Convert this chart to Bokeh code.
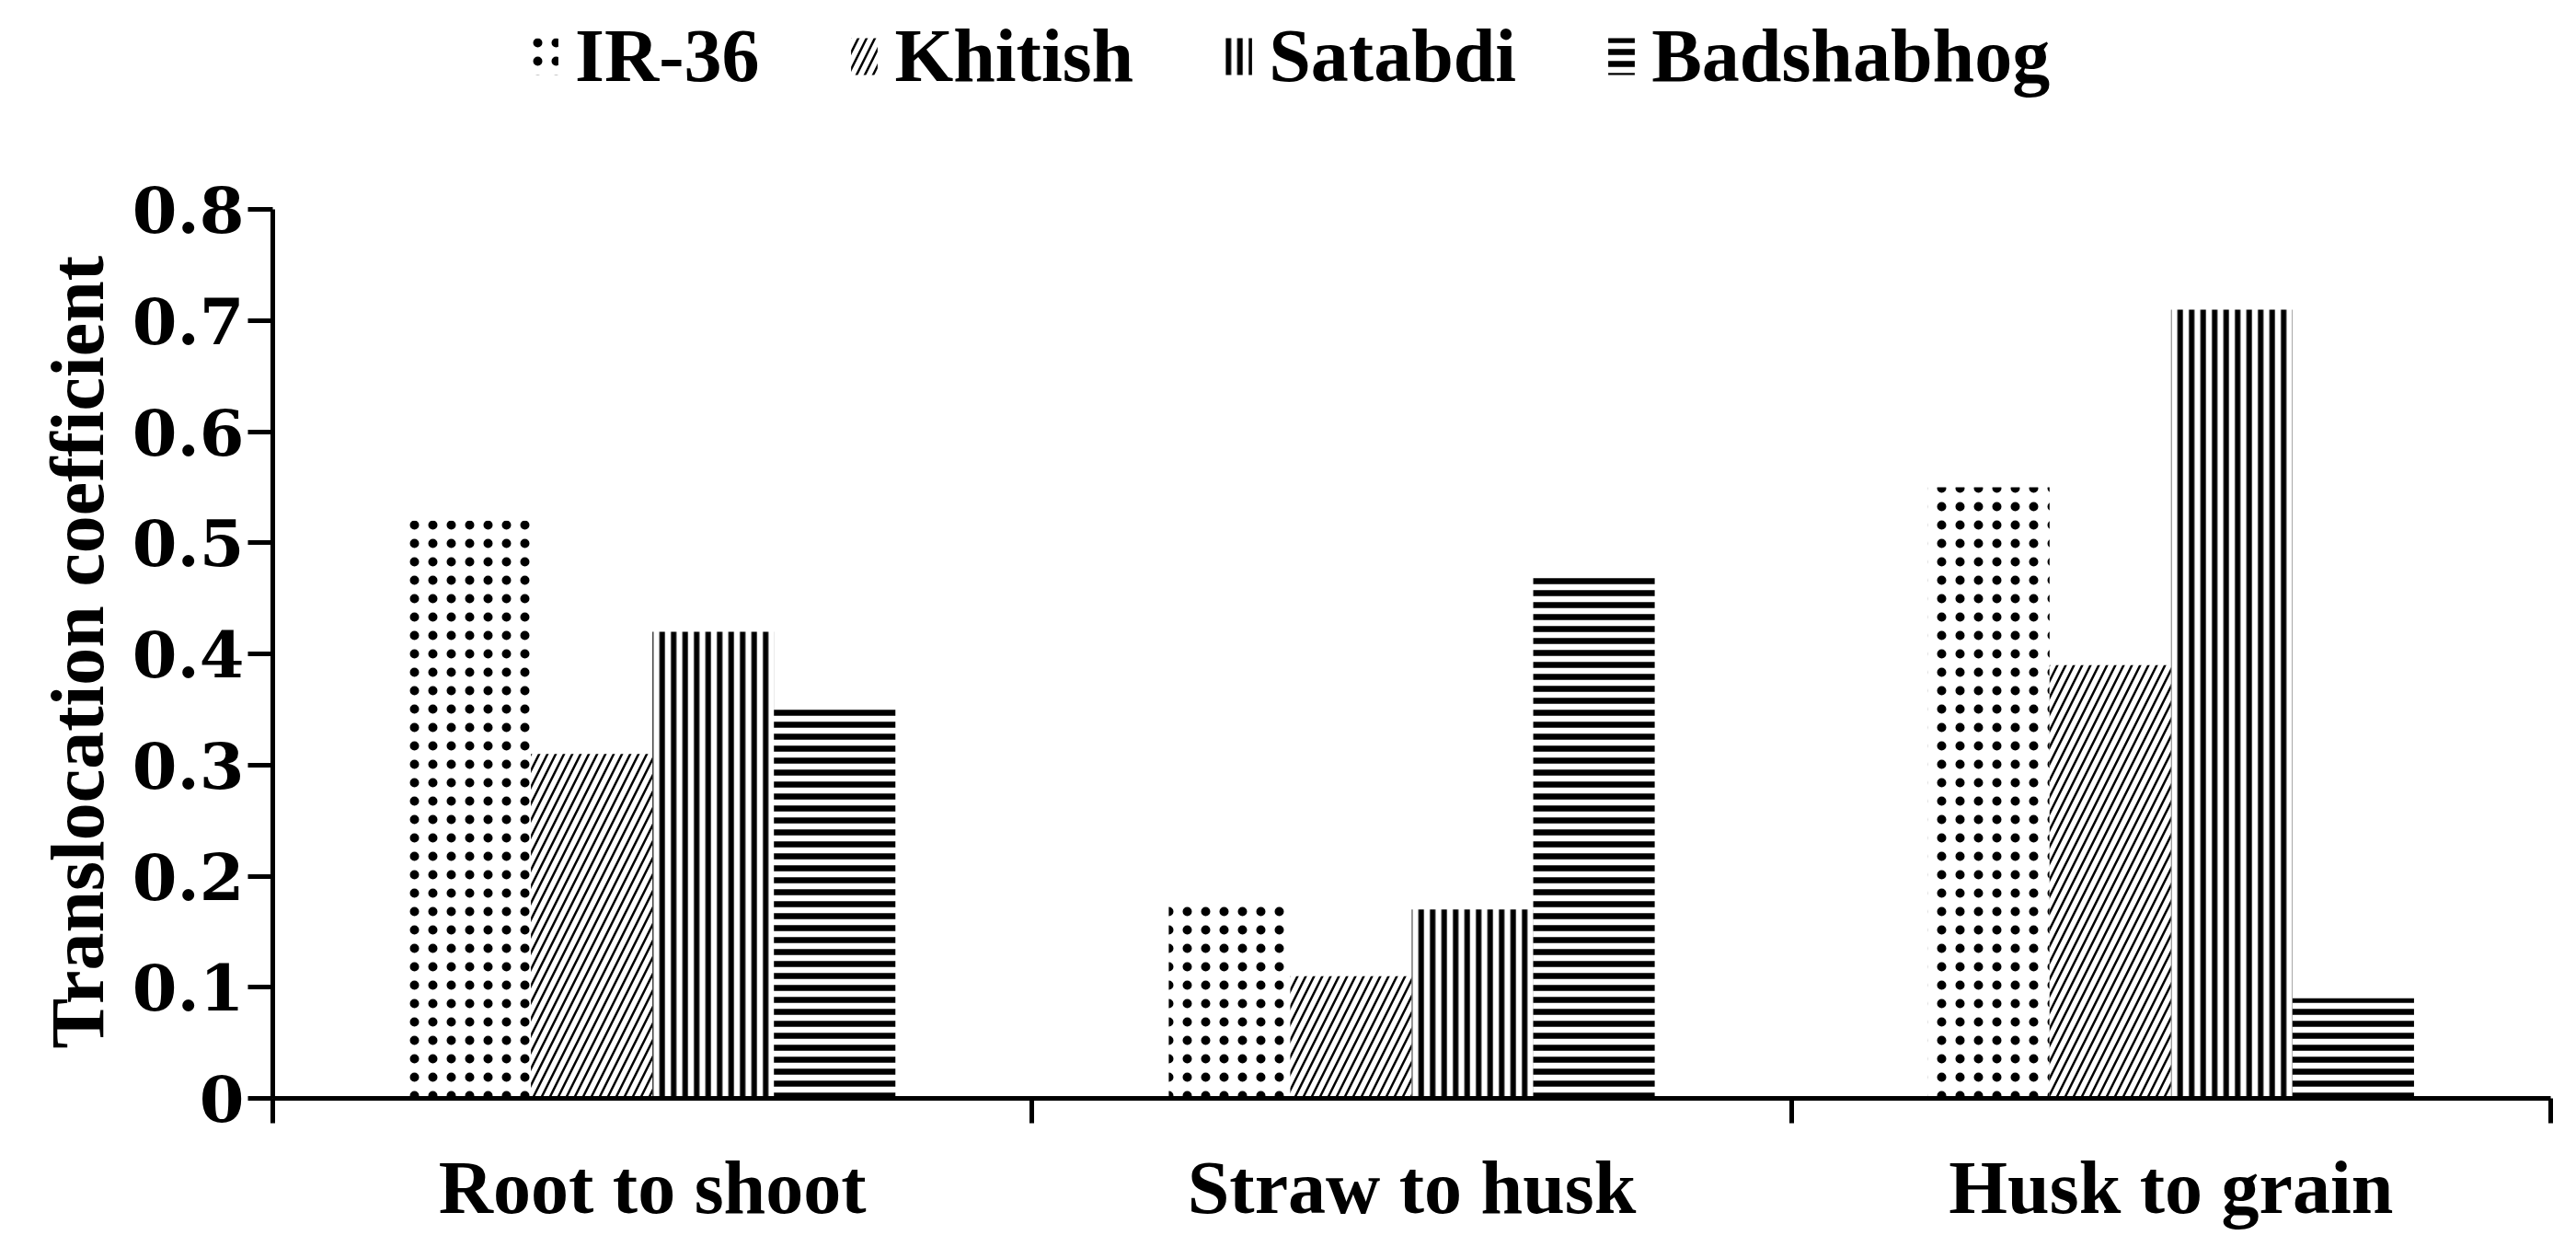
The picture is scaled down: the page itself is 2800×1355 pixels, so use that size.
from bokeh.plotting import figure
from bokeh.models import (Range1d, FixedTicker, LinearAxis, Title,
                          Legend, LegendItem, ColumnDataSource)
from bokeh.transform import dodge
from bokeh.embed import file_html
from bokeh.resources import INLINE

categories = ["Root to shoot", "Straw to husk", "Husk to grain"]
varieties = ["IR-36", "Khitish", "Satabdi", "Badshabhog"]
ir36 = [0.52, 0.18, 0.55]
khitish = [0.31, 0.11, 0.39]
satabdi = [0.42, 0.17, 0.71]
badshabhog = [0.35, 0.47, 0.09]
y_ticks = [0, 0.1, 0.2, 0.3, 0.4, 0.5, 0.6, 0.7, 0.8]
y_tick_labels = ["0", "0.1", "0.2", "0.3", "0.4", "0.5", "0.6", "0.7", "0.8"]
y_label = "Translocation coefficient"

series = [ir36, khitish, satabdi, badshabhog]
offsets = [-0.24, -0.08, 0.08, 0.24]
hatches = [
    dict(hatch_pattern="dot", hatch_scale=20, hatch_weight=5),
    dict(hatch_pattern="right_diagonal_line", hatch_scale=18, hatch_weight=2.5),
    dict(hatch_pattern="vertical_line", hatch_scale=12.5, hatch_weight=6),
    dict(hatch_pattern="horizontal_line", hatch_scale=13, hatch_weight=6.5),
]

n = len(categories)
centers = [i + 0.5 for i in range(n)]
bounds = list(range(n + 1))
y_top = 0.98  # room above the axis for the legend

p = figure(width=2784, height=1339,
           x_range=Range1d(0, n), y_range=Range1d(0, y_top),
           x_axis_location=None, y_axis_location="left",
           output_backend="svg", toolbar_location=None,
           min_border_left=296, min_border_right=12,
           min_border_top=10, min_border_bottom=146)
p.outline_line_color = None
p.grid.visible = False
p.background_fill_color = "white"
p.border_fill_color = "white"

# y axis
ya = p.yaxis[0]
ya.bounds = (y_ticks[0], y_ticks[-1])
ya.ticker = FixedTicker(ticks=y_ticks, minor_ticks=[])
ya.major_label_overrides = dict(zip(y_ticks, y_tick_labels))
ya.axis_line_width = 5
ya.axis_line_color = "black"
ya.major_tick_line_width = 5
ya.major_tick_line_color = "black"
ya.major_tick_out = 27
ya.major_tick_in = 0
ya.minor_tick_line_color = None
ya.major_label_text_font = "DejaVu Serif"
ya.major_label_text_font_style = "bold"
ya.major_label_text_font_size = "70px"
ya.major_label_text_color = "black"
ya.major_label_standoff = 4

# y axis title, placed along the 0-0.8 span of the axis
yt = Title(text=y_label, align="left", offset=54, standoff=21,
           text_font="Liberation Serif", text_font_style="bold",
           text_font_size="82px", text_color="black")
p.add_layout(yt, "left")

# x axis: boundary ticks
xt = LinearAxis(ticker=FixedTicker(ticks=bounds, minor_ticks=[]))
xt.axis_line_width = 5
xt.axis_line_color = "black"
xt.major_tick_line_width = 5
xt.major_tick_line_color = "black"
xt.major_tick_out = 27
xt.major_tick_in = 0
xt.minor_tick_line_color = None
xt.major_label_text_font_size = "1px"
xt.major_label_text_alpha = 0
p.add_layout(xt, "below")

# x axis: category labels
xc = LinearAxis(ticker=FixedTicker(ticks=centers, minor_ticks=[]))
xc.major_label_overrides = dict(zip(centers, categories))
xc.axis_line_color = None
xc.major_tick_line_color = None
xc.major_tick_out = 0
xc.major_tick_in = 0
xc.minor_tick_line_color = None
xc.major_label_text_font = "Liberation Serif"
xc.major_label_text_font_style = "bold"
xc.major_label_text_font_size = "82px"
xc.major_label_text_color = "black"
xc.major_label_standoff = 24
p.add_layout(xc, "below")

renderers = []
for vals, off, h in zip(series, offsets, hatches):
    src = ColumnDataSource(dict(pos=centers, val=vals))
    r = p.vbar(x=dodge("pos", off), top="val", width=0.16, source=src,
               fill_color="white", line_color=None, hatch_color="black", **h)
    renderers.append(r)

legend = Legend(items=[LegendItem(label=v, renderers=[r]) for v, r in zip(varieties, renderers)],
                location=(278, 1085), orientation="horizontal", padding=0, spacing=96,
                glyph_width=36, glyph_height=50, label_standoff=15,
                label_text_font="Liberation Serif", label_text_font_style="bold",
                label_text_font_size="82px", label_text_color="black",
                border_line_color=None, background_fill_alpha=0, margin=0)
p.add_layout(legend)

open("out.html", "w").write(file_html(p, INLINE))
